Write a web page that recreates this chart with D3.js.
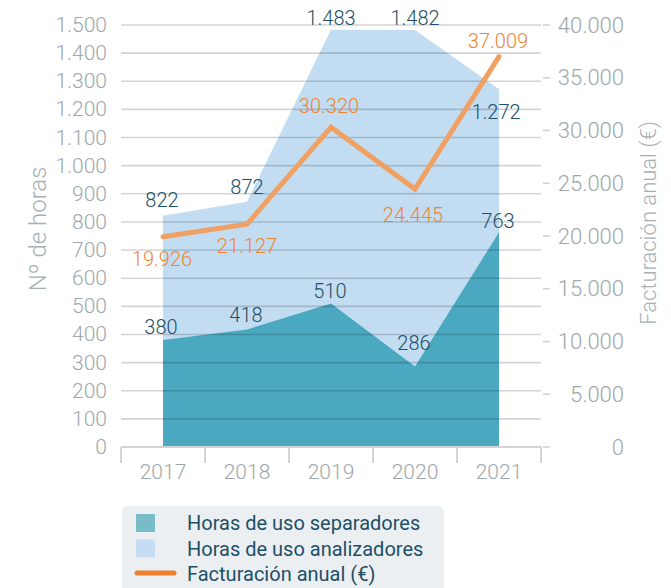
<!DOCTYPE html>
<html>
<head>
<meta charset="utf-8">
<script src="https://cdn.jsdelivr.net/npm/d3@7"></script>
<style>
  html, body { margin: 0; padding: 0; background: #fff; }
  svg { display: block; font-family: Roboto, "Noto Sans", sans-serif; }
</style>
</head>
<body>
<svg id="chart" width="671" height="588"></svg>
<script>
// Usage hours and yearly billing per year
const years = ["2017", "2018", "2019", "2020", "2021"];
const horasSeparadores = [380, 418, 510, 286, 763];
const horasAnalizadores = [822, 872, 1483, 1482, 1272];
const facturacion = [19926, 21127, 30320, 24445, 37009];
const hoursTicks = d3.range(0, 1501, 100);
const euroTicks = d3.range(0, 40001, 5000);

// Placement of value labels relative to their points (px)
const analizadoresDy = [-16, -15, -12, -12, 23];
const analizadoresDx = [-1, 0, 0, 0, -3];
const separadoresDy = [-13, -14, -13, -24, -11];
const separadoresDx = [-2, -1, -1, -1, -1];
const facturacionDy = [22, 22, -21, 26, -16];
const facturacionDx = [-1, 0, -2, -2, -1];

const esLocale = d3.formatLocale({ decimal: ",", thousands: ".", grouping: [3], currency: ["", " €"] });
const fmt = esLocale.format(",");

const svg = d3.select("#chart");
const plotLeft = 121, plotRight = 541, plotTop = 25, plotBottom = 447;

const x = d3.scalePoint().domain(years).range([plotLeft, plotRight]).padding(0.5);
const band = d3.scaleBand().domain(years).range([plotLeft, plotRight]);
const yH = d3.scaleLinear().domain([0, 1500]).range([plotBottom, plotTop]);
const yE = d3.scaleLinear().domain([0, 40000]).range([plotBottom, plotTop]);

const gridColor = "#d3d3d3";
const tickText = "#9ea7ac";
const darkText = "#1d4f66";
const orangeText = "#f0842e";

// Areas
const rowsA = years.map((y, i) => ({ y, v: horasAnalizadores[i] }));
const rowsS = years.map((y, i) => ({ y, v: horasSeparadores[i] }));
const area = d3.area().x(d => x(d.y)).y0(yH(0)).y1(d => yH(d.v));

svg.append("path").datum(rowsA).attr("d", area).attr("fill", "#c2ddf2");
svg.append("path").datum(rowsS).attr("d", area).attr("fill", "#4aa8c0");

// Horizontal grid (drawn over the areas)
svg.append("g")
  .selectAll("line")
  .data(hoursTicks.filter(t => t > 0))
  .join("line")
  .attr("x1", plotLeft).attr("x2", plotRight)
  .attr("y1", d => yH(d)).attr("y2", d => yH(d))
  .attr("stroke", "#000").attr("stroke-opacity", 0.17).attr("stroke-width", 1.6);

// Left axis labels
svg.append("g")
  .selectAll("text")
  .data(hoursTicks)
  .join("text")
  .attr("x", 107).attr("y", d => yH(d))
  .attr("text-anchor", "end").attr("dominant-baseline", "central")
  .attr("font-size", 21).attr("font-weight", 300).attr("fill", tickText)
  .text(d => fmt(d));

// Right axis ticks and labels
const rightAxis = svg.append("g");
rightAxis.selectAll("line")
  .data(euroTicks)
  .join("line")
  .attr("x1", 543).attr("x2", 550)
  .attr("y1", d => yE(d)).attr("y2", d => yE(d))
  .attr("stroke", gridColor).attr("stroke-width", 1.6);
rightAxis.selectAll("text")
  .data(euroTicks)
  .join("text")
  .attr("x", 624).attr("y", d => yE(d))
  .attr("text-anchor", "end").attr("dominant-baseline", "central")
  .attr("font-size", 22).attr("font-weight", 300).attr("fill", tickText)
  .text(d => fmt(d));

// Bottom axis
const xAxis = svg.append("g");
xAxis.append("line")
  .attr("x1", plotLeft).attr("x2", plotRight).attr("y1", plotBottom).attr("y2", plotBottom)
  .attr("stroke", gridColor).attr("stroke-width", 2);
const edges = years.map(y => band(y)).concat([plotRight]);
xAxis.selectAll("line.tick")
  .data(edges)
  .join("line")
  .attr("class", "tick")
  .attr("x1", d => d).attr("x2", d => d)
  .attr("y1", plotBottom).attr("y2", 463)
  .attr("stroke", gridColor).attr("stroke-width", 2);
xAxis.selectAll("text")
  .data(years)
  .join("text")
  .attr("x", d => x(d)).attr("y", 472)
  .attr("text-anchor", "middle").attr("dominant-baseline", "central")
  .attr("font-size", 21).attr("font-weight", 300).attr("fill", tickText)
  .text(d => d);

// Axis titles
svg.append("text")
  .attr("transform", "translate(38,229) rotate(-90)")
  .attr("text-anchor", "middle").attr("dominant-baseline", "central")
  .attr("font-size", 24).attr("font-weight", 300).attr("fill", "#a8b0b5")
  .text("Nº de horas");
svg.append("text")
  .attr("transform", "translate(648,223) rotate(-90)")
  .attr("text-anchor", "middle").attr("dominant-baseline", "central")
  .attr("font-size", 22).attr("font-weight", 300).attr("fill", "#a8b0b5")
  .text("Facturación anual (€)");

// Billing line
const rowsF = years.map((y, i) => ({ y, v: facturacion[i] }));
svg.append("path")
  .datum(rowsF)
  .attr("d", d3.line().x(d => x(d.y)).y(d => yE(d.v)))
  .attr("fill", "none")
  .attr("stroke", "#f0a062")
  .attr("stroke-width", 5)
  .attr("stroke-linecap", "round")
  .attr("stroke-linejoin", "miter");

// Value labels
function labels(rows, scale, dxs, dys, color) {
  svg.append("g")
    .selectAll("text")
    .data(rows)
    .join("text")
    .attr("x", (d, i) => x(d.y) + dxs[i])
    .attr("y", (d, i) => scale(d.v) + dys[i])
    .attr("text-anchor", "middle").attr("dominant-baseline", "central")
    .attr("font-size", 20).attr("font-weight", 300).attr("fill", color)
    .text(d => fmt(d.v));
}
labels(rowsA, yH, analizadoresDx, analizadoresDy, darkText);
labels(rowsS, yH, separadoresDx, separadoresDy, darkText);
labels(rowsF, yE, facturacionDx, facturacionDy, orangeText);

// Legend
const legend = svg.append("g");
legend.append("rect")
  .attr("x", 122).attr("y", 506).attr("width", 322).attr("height", 100)
  .attr("rx", 6).attr("fill", "#eceff2");
const legendItems = [
  { label: "Horas de uso separadores", type: "swatch", color: "#79bcc8" },
  { label: "Horas de uso analizadores", type: "swatch", color: "#c5ddf2" },
  { label: "Facturación anual (€)", type: "line", color: "#f08030" }
];
legendItems.forEach((item, i) => {
  const cy = 523 + i * 25.5;
  if (item.type === "swatch") {
    legend.append("rect")
      .attr("x", 136).attr("y", cy - 9).attr("width", 19).attr("height", 18)
      .attr("fill", item.color);
  } else {
    legend.append("line")
      .attr("x1", 137).attr("x2", 174).attr("y1", cy - 1).attr("y2", cy - 1)
      .attr("stroke", item.color).attr("stroke-width", 5).attr("stroke-linecap", "round");
  }
  legend.append("text")
    .attr("x", 187).attr("y", cy)
    .attr("dominant-baseline", "central")
    .attr("font-size", 20).attr("font-weight", 400).attr("fill", darkText)
    .text(item.label);
});
</script>
</body>
</html>
